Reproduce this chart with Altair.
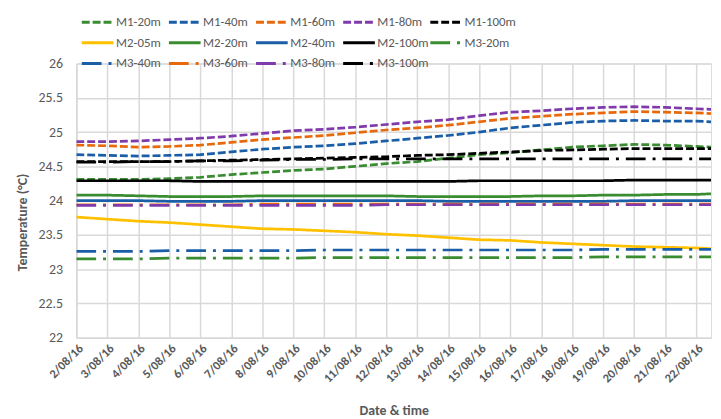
import altair as alt
import pandas as pd

# ---- data ----
dates = [
    "2016-08-02T00:00", "2016-08-03T00:00", "2016-08-04T00:00", "2016-08-05T00:00",
    "2016-08-06T00:00", "2016-08-07T00:00", "2016-08-08T00:00", "2016-08-09T00:00",
    "2016-08-10T00:00", "2016-08-11T00:00", "2016-08-12T00:00", "2016-08-13T00:00",
    "2016-08-14T00:00", "2016-08-15T00:00", "2016-08-16T00:00", "2016-08-17T00:00",
    "2016-08-18T00:00", "2016-08-19T00:00", "2016-08-20T00:00", "2016-08-21T00:00",
    "2016-08-22T00:00", "2016-08-22T11:30",
]

series_names = [
    "M1-20m", "M1-40m", "M1-60m", "M1-80m", "M1-100m",
    "M2-05m", "M2-20m", "M2-40m", "M2-100m", "M3-20m",
    "M3-40m", "M3-60m", "M3-80m", "M3-100m",
]

m1_20 = [24.31, 24.31, 24.31, 24.32, 24.34, 24.38, 24.41, 24.44, 24.46, 24.50, 24.54,
         24.57, 24.62, 24.67, 24.70, 24.74, 24.78, 24.80, 24.82, 24.81, 24.79, 24.78]
m1_40 = [24.67, 24.66, 24.65, 24.66, 24.67, 24.71, 24.75, 24.78, 24.80, 24.83, 24.87,
         24.91, 24.95, 25.00, 25.06, 25.10, 25.14, 25.16, 25.17, 25.16, 25.16, 25.15]
m1_60 = [24.81, 24.80, 24.78, 24.79, 24.81, 24.85, 24.89, 24.92, 24.95, 24.99, 25.03,
         25.06, 25.10, 25.15, 25.20, 25.23, 25.26, 25.28, 25.30, 25.29, 25.28, 25.27]
m1_80 = [24.86, 24.86, 24.87, 24.89, 24.91, 24.94, 24.98, 25.02, 25.04, 25.07, 25.11,
         25.15, 25.18, 25.24, 25.29, 25.31, 25.34, 25.36, 25.37, 25.36, 25.34, 25.33]
m1_100 = [24.57, 24.57, 24.57, 24.57, 24.58, 24.59, 24.60, 24.61, 24.62, 24.63, 24.64,
          24.66, 24.67, 24.69, 24.71, 24.73, 24.74, 24.75, 24.76, 24.76, 24.76, 24.76]
m2_05 = [23.76, 23.73, 23.70, 23.68, 23.65, 23.62, 23.59, 23.58, 23.56, 23.54, 23.51,
         23.49, 23.46, 23.43, 23.42, 23.39, 23.37, 23.35, 23.33, 23.32, 23.31, 23.30]
m2_20 = [24.08, 24.08, 24.07, 24.06, 24.06, 24.06, 24.07, 24.07, 24.07, 24.07, 24.07,
         24.06, 24.06, 24.06, 24.06, 24.07, 24.07, 24.08, 24.08, 24.09, 24.09, 24.10]
m2_40 = [24.00, 24.00, 24.00, 23.99, 23.99, 23.99, 24.00, 24.00, 24.00, 24.00, 24.00,
         24.00, 23.99, 23.99, 23.99, 23.99, 23.99, 23.99, 24.00, 24.00, 24.00, 24.00]
m2_100 = [24.29, 24.29, 24.29, 24.29, 24.28, 24.28, 24.28, 24.28, 24.28, 24.28, 24.28,
          24.28, 24.28, 24.29, 24.29, 24.29, 24.29, 24.29, 24.30, 24.30, 24.30, 24.30]
m3_20 = [23.15, 23.15, 23.15, 23.16, 23.16, 23.16, 23.16, 23.16, 23.17, 23.17, 23.17,
         23.17, 23.17, 23.17, 23.17, 23.17, 23.17, 23.18, 23.18, 23.18, 23.18, 23.18]
m3_40 = [23.26, 23.26, 23.26, 23.27, 23.27, 23.27, 23.27, 23.27, 23.28, 23.28, 23.28,
         23.28, 23.28, 23.28, 23.28, 23.28, 23.28, 23.29, 23.29, 23.29, 23.29, 23.29]
m3_60 = [23.94, 23.94, 23.94, 23.94, 23.94, 23.94, 23.95, 23.95, 23.95, 23.95, 23.95,
         23.95, 23.95, 23.95, 23.95, 23.95, 23.95, 23.95, 23.95, 23.95, 23.95, 23.95]
m3_80 = [23.93, 23.93, 23.93, 23.93, 23.93, 23.93, 23.93, 23.93, 23.93, 23.93, 23.94,
         23.94, 23.94, 23.94, 23.94, 23.94, 23.94, 23.94, 23.94, 23.94, 23.94, 23.94]
m3_100 = [24.56, 24.56, 24.57, 24.57, 24.58, 24.58, 24.59, 24.60, 24.60, 24.61, 24.61,
          24.61, 24.61, 24.61, 24.61, 24.61, 24.61, 24.61, 24.61, 24.61, 24.61, 24.61]

all_values = [m1_20, m1_40, m1_60, m1_80, m1_100, m2_05, m2_20, m2_40, m2_100,
              m3_20, m3_40, m3_60, m3_80, m3_100]

y_ticks = [22, 22.5, 23, 23.5, 24, 24.5, 25, 25.5, 26]
x_tick_days = list(range(2, 23))

# ---- styles ----
GREEN, BLUE, ORANGE, PURPLE, BLACK, YELLOW = (
    "#3A8C30", "#1A5EA8", "#E8690C", "#7F3AAB", "#000000", "#FFC000")
colors = [GREEN, BLUE, ORANGE, PURPLE, BLACK,
          YELLOW, GREEN, BLUE, BLACK, GREEN,
          BLUE, ORANGE, PURPLE, BLACK]
DASH = [8, 3]
SOLID = [1, 0]
DASHDOT = [20, 7, 3, 7]
dashes = [DASH] * 5 + [SOLID] * 4 + [DASHDOT] * 5

rows = []
for name, vals in zip(series_names, all_values):
    for d, v in zip(dates, vals):
        rows.append({"date": d, "series": name, "temp": v})
df = pd.DataFrame(rows)

FONT = "Carlito, Lato, sans-serif"
GREY = "#595959"
GRID = "#D9D9D9"

legend = alt.Legend(
    title=None, orient="none", legendX=4, legendY=-48.5, columns=5, direction="horizontal",
    symbolType="stroke", symbolSize=1024, symbolStrokeWidth=3, clipHeight=13,
    labelFont=FONT, labelFontSize=13, labelColor=GREY, labelOffset=1,
    columnPadding=-3, rowPadding=7, gridAlign="all", padding=0,
)

chart = alt.Chart(df).mark_line(strokeWidth=2.75, clip=True).encode(
    x=alt.X(
        "date:T",
        scale=alt.Scale(domain=[alt.DateTime(year=2016, month=8, date=2, hours=0),
                                alt.DateTime(year=2016, month=8, date=22, hours=11, minutes=30)]),
        axis=alt.Axis(
            values=[alt.DateTime(year=2016, month=8, date=d) for d in x_tick_days],
            format="%-d/%m/%y", labelAngle=315, labelFont=FONT, labelFontSize=12.5,
            labelFontWeight="bold", labelColor=GREY, labelPadding=4, ticks=False,
            labelOverlap=False, labelFlush=False,
            domainColor=GRID, domainWidth=1.5, gridColor=GRID, gridWidth=1.5,
            title="Date & time", titleFont=FONT, titleFontSize=14, titleFontWeight="bold",
            titleColor=GREY, titleY=74, titleBaseline="middle",
        ),
    ),
    y=alt.Y(
        "temp:Q",
        scale=alt.Scale(domain=[22, 26], nice=False, zero=False),
        axis=alt.Axis(
            values=y_ticks, format="~g", labelFont=FONT, labelFontSize=14, labelColor=GREY,
            labelPadding=14, ticks=False, domainColor=GRID, domainWidth=1.5,
            gridColor=GRID, gridWidth=1.5,
            title="Temperature (°C)", titleFont=FONT, titleFontSize=14,
            titleFontWeight="bold", titleColor=GREY, titleAngle=270,
            titleX=-54, titleY=160, titleAlign="center", titleBaseline="middle",
        ),
    ),
    color=alt.Color("series:N", scale=alt.Scale(domain=series_names, range=colors),
                    sort=series_names, legend=legend),
    strokeDash=alt.StrokeDash("series:N", scale=alt.Scale(domain=series_names, range=dashes),
                              sort=series_names, legend=legend),
).properties(
    width=641, height=277,
    autosize=alt.AutoSizeParams(type="none"),
    padding={"left": 69, "top": 54, "right": 2, "bottom": 80},
).configure_view(stroke="transparent").configure(background="white")

chart.save("out.html", embed_options={"renderer": "svg", "actions": False})
